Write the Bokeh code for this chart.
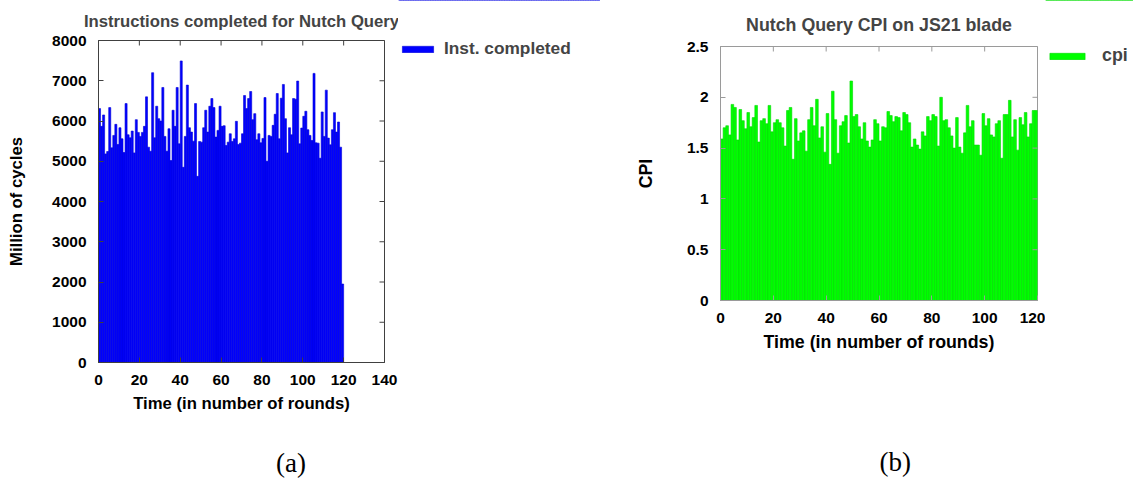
from bokeh.plotting import figure
from bokeh.layouts import row, column
from bokeh.models import Legend, LegendItem, Label, FixedTicker, Range1d
from bokeh.embed import file_html
from bokeh.resources import INLINE
import numpy as np

# ---------------- data ----------------
rounds = list(range(1, 121))

inst_completed = [
    6308, 5867, 6150, 5183, 5242, 6333, 5333, 5642, 5917, 5417,
    5833, 5558, 5217, 6433, 5658, 5583, 5750, 5208, 6033, 5717,
    5617, 5717, 5867, 6600, 5350, 5250, 7200, 5583, 6367, 6058,
    6000, 6833, 5617, 5250, 5808, 5017, 6267, 5867, 6833, 5433,
    7492, 4850, 5617, 6892, 5833, 5725, 5500, 6433, 4625, 5492,
    5475, 5833, 6267, 5725,
    6367, 6558, 6333, 5600, 5767, 6367, 5867, 5883, 5392, 5475,
    5683, 5492, 5558, 5992, 5417, 5450, 5683, 6633, 6308, 6558,
    6733, 6033, 6183, 5533, 5683, 5458, 5567, 6583, 5000, 5642,
    5617, 5892, 6167, 6683, 5558, 6567, 6908, 6058, 5208, 5833,
    5658, 6558, 6542, 6992, 5433, 5825, 6117, 6242, 5783, 5642,
    5517, 7183, 5458, 5450, 5075, 6225, 5617, 6767, 5575, 5408,
    5783, 6208, 5725, 5975, 5350, 1950,
]

cpi = [
    1.59, 1.70, 1.72, 1.63, 1.93, 1.90, 1.58, 1.88, 1.77, 1.69,
    1.85, 1.71, 1.80, 1.92, 1.56, 1.77, 1.79, 1.74, 1.92, 1.66,
    1.75, 1.78, 1.75, 1.70, 1.52, 1.87, 1.90, 1.39, 1.79, 1.57,
    1.65, 1.67, 1.47, 1.78, 1.90, 1.72, 1.98, 1.60, 1.71, 1.46,
    1.84, 1.34, 2.06, 1.78, 1.45, 1.72, 1.76, 1.82, 1.55, 2.16,
    1.81, 1.83, 1.71,
    1.59, 1.75, 1.57, 1.51, 1.58, 1.78, 1.74, 1.57, 1.71, 1.70,
    1.86, 1.82, 1.76, 1.81, 1.80, 1.67, 1.85, 1.83, 1.75, 1.51,
    1.59, 1.53, 1.49, 1.66, 1.62, 1.81, 1.77, 1.83, 1.81, 1.52,
    2.00, 1.77, 1.78, 1.70, 1.62, 1.50, 1.80, 1.51, 1.45, 1.65,
    1.92, 1.71, 1.77, 1.53, 1.53, 1.43, 1.84, 1.72, 1.79, 1.63,
    1.61, 1.74, 1.77, 1.40, 1.83, 1.83, 1.97, 1.61, 1.78, 1.48,
    1.80, 1.73, 1.85, 1.61, 1.74, 1.87, 1.87,
]

x_ticks_a = [0, 20, 40, 60, 80, 100, 120, 140]
y_ticks_a = [0, 1000, 2000, 3000, 4000, 5000, 6000, 7000, 8000]
x_ticks_b = [0, 20, 40, 60, 80, 100, 120]
y_ticks_b = [0, 0.5, 1, 1.5, 2, 2.5]
y_tick_labels_b = ["0", "0.5", "1", "1.5", "2", "2.5"]

FONT = "Liberation Sans"
SERIF = "Liberation Serif"


def style_axis(ax, col, font_size, label_size, label_standoff, axis_label_standoff):
    ax.major_tick_in = 5
    ax.major_tick_out = 0
    ax.minor_tick_line_color = None
    ax.major_tick_line_color = col
    ax.axis_line_color = col
    ax.major_label_text_font = FONT
    ax.major_label_text_font_style = "bold"
    ax.major_label_text_font_size = font_size
    ax.major_label_text_color = "black"
    ax.major_label_standoff = label_standoff
    ax.axis_label_text_font = FONT
    ax.axis_label_text_font_style = "bold"
    ax.axis_label_text_font_size = label_size
    ax.axis_label_text_color = "black"
    ax.axis_label_standoff = axis_label_standoff


def make_panel(frame_w, frame_h, xr, yr, xt, yt, values, fill, line, frame_col,
               title, title_size, xlabel, ylabel, borders, ylab_standoff,
               title_standoff, y_overrides=None):
    bl, br, bt, bb = borders
    p = figure(frame_width=frame_w, frame_height=frame_h,
               x_range=Range1d(*xr), y_range=Range1d(*yr),
               output_backend="svg", toolbar_location=None,
               min_border_left=bl, min_border_right=br, min_border_top=bt,
               min_border_bottom=bb)
    p.grid.visible = False
    p.background_fill_color = "white"
    p.border_fill_color = "white"
    p.outline_line_color = frame_col
    p.outline_line_width = 1

    xc = np.array(rounds) - 0.5
    p.vbar(x=xc, width=1.0, bottom=0, top=values,
           fill_color=fill, line_color=line, line_width=0.6)

    # mirror ticks on the top and right edges (half of each dash is clipped)
    p.scatter(x=xt, y=[yr[1]] * len(xt), marker="dash", size=10, angle=np.pi / 2,
              line_color=frame_col, line_width=1)
    p.scatter(x=[xr[1]] * len(yt), y=yt, marker="dash", size=10,
              line_color=frame_col, line_width=1)

    p.xaxis.ticker = FixedTicker(ticks=xt)
    p.yaxis.ticker = FixedTicker(ticks=yt)
    if y_overrides:
        p.yaxis.major_label_overrides = y_overrides
    style_axis(p.xaxis[0], frame_col, "15.5px", title_size, 12, 6)
    style_axis(p.yaxis[0], frame_col, "15.5px", title_size, 12, ylab_standoff)
    p.xaxis.axis_label = xlabel
    p.yaxis.axis_label = ylabel

    p.title.text = title
    p.title.align = "center"
    p.title.text_font = FONT
    p.title.text_font_style = "bold"
    p.title.text_font_size = title_size
    p.title.standoff = title_standoff
    return p


def blank(width, height, top=0):
    f = figure(width=width, height=height, title=None, x_axis_type=None,
               y_axis_type=None, output_backend="svg", toolbar_location=None,
               x_range=Range1d(0, 1), y_range=Range1d(0, 1),
               min_border_left=0, min_border_right=0, min_border_top=top,
               min_border_bottom=0)
    f.grid.visible = False
    f.outline_line_color = None
    f.background_fill_color = "white"
    f.border_fill_color = "white"
    return f


def make_legend(width, height, loc, label, values, fill, line, font_size,
                glyph_w, standoff):
    lf = blank(width, height, 0)
    vmax = max(values)
    # the bars sit above this figure's visible range: only the legend entry shows
    lf.x_range = Range1d(0, len(values))
    lf.y_range = Range1d(-2 * vmax, -vmax)
    r = lf.vbar(x=np.array(rounds) - 0.5, top=values, width=1.0, bottom=0,
                fill_color=fill, line_color=line, line_width=0.6)
    leg = Legend(items=[LegendItem(label=label, renderers=[r])],
                 location=loc, glyph_width=glyph_w, glyph_height=8,
                 label_text_font=FONT, label_text_font_style="bold",
                 label_text_font_size=font_size, label_standoff=standoff,
                 label_height=16, padding=0, margin=0, border_line_color=None,
                 background_fill_alpha=0)
    lf.add_layout(leg)
    return lf


def make_caption(width, height, text, fx, fy):
    cf = blank(width, height)
    cf.add_layout(Label(x=fx, y=fy, text=text, text_align="center",
                        text_baseline="middle", text_font=SERIF,
                        text_font_size="27px", text_color="black"))
    return cf


p1 = make_panel(286, 322, (0, 140), (0, 8000), x_ticks_a, y_ticks_a,
                inst_completed, "#0000ff", "#0000d8", "#404040",
                "Instructions completed for Nutch Query", "16.7px",
                "Time (in number of rounds)", "Million of cycles",
                (98, 14, 38, 60), 23, 19)
capA = make_caption(398, 56, "(a)", 0.673, 0.27)
lg1 = make_legend(202, 100, (0, 41), "Inst. completed", inst_completed,
                  "#0000ff", "#0000d8", "17.3px", 39, 7)

p2 = make_panel(317, 254, (0, 120), (0, 2.5), x_ticks_b, y_ticks_b,
                cpi, "#00ff00", "#00d800", "#9a9a9a",
                "Nutch Query CPI on JS21 blade", "17.8px",
                "Time (in number of rounds)", "CPI",
                (120, 8, 45, 60), 28, 24,
                y_overrides={t: s for t, s in zip(y_ticks_b, y_tick_labels_b)})
capB = make_caption(445, 118, "(b)", 0.551, 0.14)
lg2 = make_legend(88, 100, (0, 34), "cpi", cpi, "#00ff00", "#00d800", "17.8px", 44, 13)

layout = row(column(p1, capA), column(lg1), column(p2, capB), column(lg2))

open("out.html", "w").write(file_html(layout, INLINE))
